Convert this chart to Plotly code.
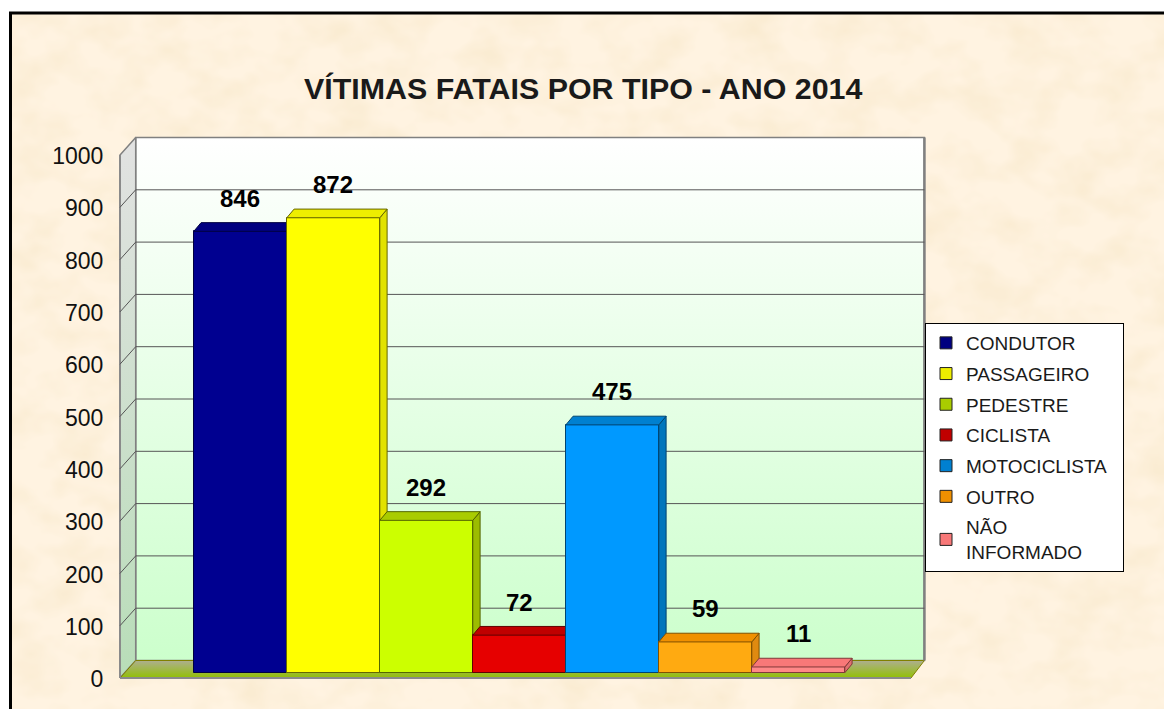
import base64
import plotly.graph_objects as go

# ---- data ----
categories = ["CONDUTOR", "PASSAGEIRO", "PEDESTRE", "CICLISTA", "MOTOCICLISTA", "OUTRO", "NÃO<br>INFORMADO"]
values = [846, 872, 292, 72, 475, 59, 11]
front_colors = ["#000090", "#FFFF00", "#CCFF00", "#E60000", "#0099FF", "#FFAA11", "#FF8888"]
top_colors = ["#000080", "#EEEE00", "#A9CC00", "#C00000", "#0080D0", "#F09000", "#F87878"]
side_colors = ["#00006E", "#E2E200", "#9CBC00", "#B00000", "#0076BC", "#E08A10", "#E07070"]
edge_colors = ["#000040", "#666600", "#556600", "#600000", "#004470", "#805000", "#803838"]
y_ticks = [0, 100, 200, 300, 400, 500, 600, 700, 800, 900, 1000]
title_text = "VÍTIMAS FATAIS POR TIPO - ANO 2014"

W, H = 1164, 709
PX_PER_CAT = 93.0
X0_PX = 240.3
def xu(px):
    return (px - X0_PX) / PX_PER_CAT

K_WALL = 0.523
Y0_WALL = 678.0
K_BAR = 0.5217
Y0_BAR = 672.7
wall_range = [(Y0_WALL - H) / K_WALL, Y0_WALL / K_WALL]
bar_range = [(Y0_BAR - H) / K_BAR, Y0_BAR / K_BAR]

WALL_DY = 17.5 / K_WALL
XL_F, XL_B, XR_F, XR_B = xu(120), xu(135.7), xu(911), xu(924.4)
BAR_DX = 7.3 / PX_PER_CAT
BAR_DY = 8.7 / K_BAR
TOP = y_ticks[-1]

# parchment texture for the chart card
texture_svg = (
    "<svg xmlns='http://www.w3.org/2000/svg' width='1164' height='709'>"
    "<filter id='n' x='0' y='0' width='100%' height='100%'>"
    "<feTurbulence type='fractalNoise' baseFrequency='0.022 0.03' numOctaves='3' seed='7'/>"
    "<feColorMatrix values='0 0 0 0 0.93  0 0 0 0 0.80  0 0 0 0 0.58  1.3 0 0 0 -0.50'/>"
    "</filter>"
    "<rect width='1164' height='709' fill='#FFF3E1'/>"
    "<rect width='1164' height='709' filter='url(#n)'/>"
    "</svg>"
)
texture_uri = "data:image/svg+xml;base64," + base64.b64encode(texture_svg.encode()).decode()

fig = go.Figure()

def poly(xs, ys, yaxis="y", **kw):
    fig.add_trace(go.Scatter(x=xs, y=ys, mode="lines", fill="toself", yaxis=yaxis,
                             showlegend=False, hoverinfo="skip", **kw))

# back wall
poly([XL_B, XR_B, XR_B, XL_B, XL_B], [WALL_DY, WALL_DY, TOP + WALL_DY, TOP + WALL_DY, WALL_DY],
     line=dict(color="#808080", width=1.5),
     fillgradient=dict(type="vertical", colorscale=[[0, "#CCFFCC"], [1, "#FFFFFF"]]))
# left wall
poly([XL_F, XL_B, XL_B, XL_F, XL_F], [0, WALL_DY, TOP + WALL_DY, TOP, 0],
     line=dict(color="#808080", width=1.5),
     fillgradient=dict(type="vertical", colorscale=[[0, "#B8DDB8"], [1, "#E2E2E2"]]))
# floor
poly([XL_F, XR_F, XR_B, XL_B, XL_F], [0, 0, WALL_DY, WALL_DY, 0],
     line=dict(color="#808000", width=1),
     fillgradient=dict(type="vertical", colorscale=[[0, "#92C004"], [1, "#AEAE90"]]))
# front-bottom edge of floor and outer wall edge
fig.add_trace(go.Scatter(x=[XL_F, XR_F, None, XL_F, XL_F], y=[0, 0, None, 0, TOP], mode="lines",
                         line=dict(color="#8A8A8A", width=2), showlegend=False, hoverinfo="skip"))
fig.add_trace(go.Scatter(x=[XR_B, XR_B], y=[WALL_DY, TOP + WALL_DY], mode="lines",
                         line=dict(color="#808080", width=2.5), showlegend=False, hoverinfo="skip"))

# gridlines on back wall and left wall
gx, gy = [], []
for t in y_ticks[1:-1]:
    gx += [XL_F, XL_B, XR_B, None]
    gy += [t, t + WALL_DY, t + WALL_DY, None]
fig.add_trace(go.Scatter(x=gx, y=gy, mode="lines", line=dict(color="#555555", width=1),
                         showlegend=False, hoverinfo="skip"))

layout_axes = {}
annotations = []
for i, (cat, v) in enumerate(zip(categories, values)):
    ax = f"y{i + 2}"
    l, r = i - 0.5, i + 0.5
    edge = dict(color=edge_colors[i], width=1)
    fig.add_trace(go.Bar(x=[i], y=[v], width=1, yaxis=ax, showlegend=False, name=cat.replace("<br>", " "),
                         marker=dict(color=front_colors[i], line=edge)))
    poly([r, r + BAR_DX, r + BAR_DX, r, r], [0, BAR_DY, v + BAR_DY, v, 0], yaxis=ax,
         fillcolor=side_colors[i], line=edge)
    poly([l, r, r + BAR_DX, l + BAR_DX, l], [v, v, v + BAR_DY, v + BAR_DY, v], yaxis=ax,
         fillcolor=top_colors[i], line=edge)
    layout_axes[f"yaxis{i + 2}"] = dict(overlaying="y", range=bar_range, visible=False, anchor="x")
    annotations.append(dict(x=i, y=v, xref="x", yref=ax, yshift=33, text=f"<b>{v}</b>", showarrow=False,
                            xanchor="center", yanchor="middle",
                            font=dict(family="Liberation Sans", size=24, color="#000000")))

# legend entries (the longest label gets trailing blanks so the box keeps its width)
for i, cat in enumerate(categories):
    label = cat + "\u00a0\u00a0" if cat == "MOTOCICLISTA" else cat
    fig.add_trace(go.Bar(x=[None], y=[None], name=label, legendgroup=f"g{i}", showlegend=True,
                         marker=dict(color=top_colors[i], line=dict(color="#222222", width=1))))

annotations.append(dict(x=583 / W, y=1 - 88 / H, xref="paper", yref="paper", text=f"<b>{title_text}</b>",
                        showarrow=False, xanchor="center", yanchor="middle",
                        font=dict(family="Liberation Sans", size=30.4, color="#1a1a1a")))

fig.update_layout(
    width=W, height=H, autosize=False,
    margin=dict(l=0, r=0, t=0, b=0, pad=0),
    paper_bgcolor="#FFFFFF", plot_bgcolor="rgba(0,0,0,0)",
    barmode="overlay", bargap=0,
    xaxis=dict(range=[xu(0), xu(W)], visible=False, domain=[0, 1], fixedrange=True),
    yaxis=dict(range=wall_range, domain=[0, 1], anchor="free", position=120 / W, side="left",
               tickmode="array", tickvals=[t - 2 for t in y_ticks], ticktext=[str(t) for t in y_ticks],
               ticks="outside", ticklen=12, tickcolor="rgba(0,0,0,0)", showgrid=False, zeroline=False,
               showline=False, tickfont=dict(family="Liberation Sans", size=23, color="#111111")),
    legend=dict(x=925 / W, y=1 - 323 / H, xanchor="left", yanchor="top", bgcolor="#FFFFFF",
                bordercolor="#000000", borderwidth=1, tracegroupgap=3, itemclick=False,
                traceorder="grouped",
                font=dict(family="Liberation Sans", size=19, color="#1a1a1a")),
    annotations=annotations,
    images=[dict(source=texture_uri, xref="paper", yref="paper", x=10.5 / W, y=1 - 13 / H,
                 sizex=1, sizey=1, xanchor="left", yanchor="top", sizing="stretch", layer="below")],
    shapes=[dict(type="rect", xref="paper", yref="paper", x0=10.5 / W, x1=1.05, y0=-0.05, y1=1 - 13 / H,
                 layer="below", line=dict(color="#000000", width=3))],
    showlegend=True,
    **layout_axes,
)

fig.write_html("out.html", config={"displayModeBar": False},
               post_script="document.body.style.margin='0';document.body.style.overflow='hidden';")
